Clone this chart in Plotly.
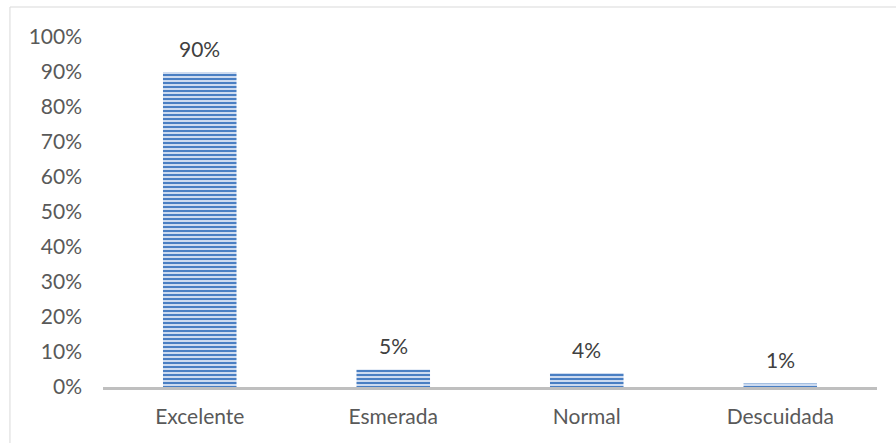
import plotly.graph_objects as go

# Survey results: share of responses per rating
categories = ["Excelente", "Esmerada", "Normal", "Descuidada"]
shares = [0.90, 0.05, 0.04, 0.01]
tick_values = [i / 10 for i in range(11)]
tick_labels = [f"{i * 10}%" for i in range(11)]

FONT = "Lato"
TEXT_COLOR = "#595959"

fig = go.Figure(
    go.Bar(
        x=categories,
        y=shares,
        marker=dict(
            color="#cddbf0",
            line=dict(width=0),
            pattern=dict(shape="-", fgcolor="#4a7fc3", fgopacity=1,
                         size=4, solidity=0.5, fillmode="overlay"),
        ),
        hoverinfo="skip",
    )
)

# value labels above each bar
for cat, val in zip(categories, shares):
    fig.add_annotation(
        x=cat, y=val, text=f"{round(val * 100)}%", showarrow=False,
        yshift=24, font=dict(family=FONT, size=21, color="#404040"),
    )

# outer chart frame
fig.add_shape(type="rect", xref="paper", yref="paper",
              x0=-0.1202, y0=-0.4, x1=1.1, y1=1.0857,
              line=dict(color="#d9d9d9", width=1), layer="below")

fig.update_layout(
    width=896, height=443,
    margin=dict(l=103, r=19, t=37, b=56),
    paper_bgcolor="white", plot_bgcolor="white",
    bargap=0.62,
    showlegend=False,
    font=dict(family=FONT, size=21, color=TEXT_COLOR),
    xaxis=dict(
        showline=True, linecolor="#bfbfbf", linewidth=3,
        ticks="", showgrid=False, zeroline=False,
        tickfont=dict(family=FONT, size=21, color=TEXT_COLOR),
        ticklabelstandoff=9,
    ),
    yaxis=dict(
        range=[0, 1], tickvals=tick_values, ticktext=tick_labels,
        showgrid=False, zeroline=False, showline=False, ticks="",
        tickfont=dict(family=FONT, size=21, color=TEXT_COLOR),
        ticklabelstandoff=20,
    ),
)

fig.write_html("out.html")
